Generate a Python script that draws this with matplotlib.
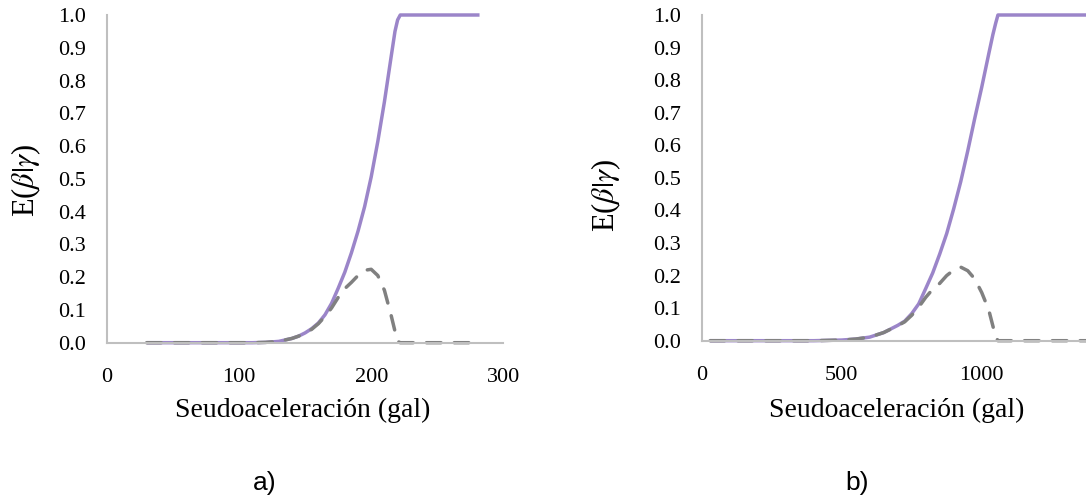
import matplotlib
matplotlib.use("Agg")
import matplotlib.pyplot as plt

# ---------------- data ----------------
# panel a)
xa = [30, 60, 90, 110, 120, 130, 140, 145, 150, 155, 160, 165, 170, 175, 180,
      185, 190, 195, 200, 205, 210, 215, 218, 220, 222, 230, 250, 282]
solid_a = [0, 0, 0, 0, 0.001, 0.004, 0.013, 0.02, 0.03, 0.043, 0.06, 0.085,
           0.12, 0.166, 0.215, 0.274, 0.34, 0.415, 0.506, 0.614, 0.735,
           0.87, 0.95, 0.985, 1.0, 1.0, 1.0, 1.0]
dash_a = [0, 0, 0, 0, 0.001, 0.004, 0.013, 0.02, 0.029, 0.041, 0.058, 0.08,
          0.106, 0.138, 0.165, 0.184, 0.205, 0.221, 0.224, 0.205, 0.16,
          0.085, 0.035, 0.004, 0, 0, 0, 0]

# panel b)
xb = [30, 100, 200, 300, 400, 450, 500, 550, 600, 650, 700, 725, 750, 775, 800,
      825, 850, 875, 900, 925, 950, 975, 1000, 1025, 1040, 1050, 1058, 1100,
      1200, 1300, 1400]
solid_b = [0, 0, 0, 0, 0, 0.001, 0.002, 0.005, 0.011, 0.025, 0.047, 0.06,
           0.083, 0.113, 0.16, 0.208, 0.266, 0.329, 0.405, 0.488, 0.582, 0.682,
           0.778, 0.88, 0.94, 0.975, 1.0, 1.0, 1.0, 1.0, 1.0]
dash_b = [0, 0, 0, 0, 0, 0.001, 0.002, 0.005, 0.011, 0.025, 0.046, 0.058,
          0.078, 0.103, 0.133, 0.158, 0.176, 0.2, 0.217, 0.226, 0.215, 0.19,
          0.148, 0.095, 0.045, 0.012, 0, 0, 0, 0, 0]

yticks = [0.0, 0.1, 0.2, 0.3, 0.4, 0.5, 0.6, 0.7, 0.8, 0.9, 1.0]
xticks_a = [0, 100, 200, 300]
xticks_b = [0, 500, 1000]
xlabel = "Seudoaceleración (gal)"
ylabel = r"E($\beta|\gamma$)"
panel_labels = ["a)", "b)"]

# ---------------- style ----------------
W, H = 1086, 498
plt.rcParams["mathtext.fontset"] = "stix"
fig = plt.figure(figsize=(W / 100, H / 100), dpi=100)

PURPLE = "#9B85C9"
GRAY = "#808080"
AXIS = "#BFBFBF"
SERIF = "Liberation Serif"


def px_rect(x0, x1, y_top, y_bot):
    return [x0 / W, 1 - y_bot / H, (x1 - x0) / W, (y_bot - y_top) / H]


def style(ax, xlim, xticks):
    ax.set_xlim(*xlim)
    ax.set_ylim(0, 1.0)
    ax.set_xticks(xticks)
    ax.set_yticks(yticks)
    ax.set_yticklabels([f"{v:.1f}" for v in yticks])
    for s in ["top", "right"]:
        ax.spines[s].set_visible(False)
    for s in ["left", "bottom"]:
        ax.spines[s].set_color(AXIS)
        ax.spines[s].set_linewidth(1.5)
    ax.tick_params(length=0, labelsize=16, colors="black")
    ax.tick_params(axis="x", pad=18)
    ax.tick_params(axis="y", pad=15)
    for lab in ax.get_xticklabels() + ax.get_yticklabels():
        lab.set_fontfamily(SERIF)
    ax.patch.set_alpha(0)


def draw(ax, x, s, d):
    ax.plot(x, s, color=PURPLE, lw=2.5, solid_capstyle="butt", clip_on=False,
            solid_joinstyle="round")
    ax.plot(x, d, color=GRAY, lw=2.5, dashes=(4.2, 3.8), dash_capstyle="round",
            clip_on=False)


# panel a
axa = fig.add_axes(px_rect(107, 503.3, 15, 342.7))
draw(axa, xa, solid_a, dash_a)
style(axa, (0, 300), xticks_a)

# panel b (extends past figure edge like the reference crop)
axb = fig.add_axes(px_rect(701.7, 1121.7, 15, 340.7))
draw(axb, xb, solid_b, dash_b)
style(axb, (0, 1500), xticks_b)

# labels
def ftext(x, y, s, **kw):
    fig.text(x / W, 1 - y / H, s, ha="center", va="center", **kw)

ftext(303, 410, xlabel, fontsize=20, family=SERIF)
ftext(897, 410, xlabel, fontsize=20, family=SERIF)
ftext(26, 180, ylabel, fontsize=22, family=SERIF, rotation=90)
ftext(606, 195, ylabel, fontsize=22, family=SERIF, rotation=90)
ftext(265, 483, panel_labels[0], fontsize=19, family="Liberation Sans")
ftext(857, 483, panel_labels[1], fontsize=19, family="Liberation Sans")

fig.savefig("out.png", dpi=100)
